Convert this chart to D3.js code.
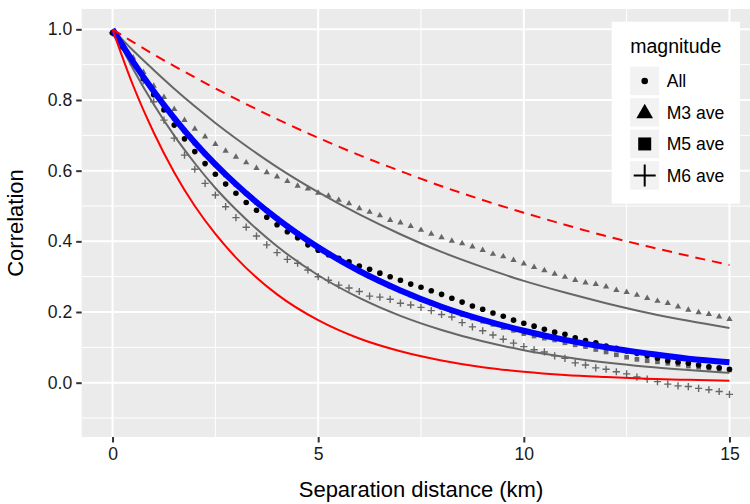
<!DOCTYPE html>
<html>
<head>
<meta charset="utf-8">
<script src="https://cdn.jsdelivr.net/npm/d3@7"></script>
<style>
  body { margin: 0; background: #fff; }
  text { font-family: "Liberation Sans", Arial, sans-serif; }
</style>
</head>
<body>
<div id="chart"></div>
<script>
// separation distances (km) of the averaged points
const pointDist = [0, 0.25, 0.5, 0.75, 1, 1.25, 1.5, 1.75, 2, 2.25, 2.5, 2.75, 3, 3.25, 3.5, 3.75,
  4, 4.25, 4.5, 4.75, 5, 5.25, 5.5, 5.75, 6, 6.25, 6.5, 6.75, 7, 7.25, 7.5, 7.75,
  8, 8.25, 8.5, 8.75, 9, 9.25, 9.5, 9.75, 10, 10.25, 10.5, 10.75, 11, 11.25, 11.5, 11.75,
  12, 12.25, 12.5, 12.75, 13, 13.25, 13.5, 13.75, 14, 14.25, 14.5, 14.75, 15];

const allCorr = [0.99, 0.95, 0.905, 0.861, 0.815, 0.772, 0.729, 0.69, 0.654, 0.62, 0.59, 0.562, 0.536, 0.51, 0.488, 0.468,
  0.447, 0.427, 0.41, 0.39, 0.375, 0.362, 0.352, 0.342, 0.33, 0.321, 0.31, 0.3, 0.29, 0.279, 0.27, 0.26,
  0.25, 0.239, 0.228, 0.217, 0.208, 0.197, 0.188, 0.177, 0.168, 0.16, 0.151, 0.143, 0.137, 0.127, 0.119, 0.113,
  0.104, 0.097, 0.09, 0.083, 0.076, 0.069, 0.062, 0.058, 0.055, 0.05, 0.045, 0.042, 0.038];

const m3Corr = [0.99, 0.96, 0.92, 0.879, 0.84, 0.808, 0.774, 0.743, 0.718, 0.696, 0.675, 0.656, 0.639, 0.623, 0.607, 0.595,
  0.583, 0.57, 0.557, 0.549, 0.537, 0.529, 0.517, 0.507, 0.493, 0.483, 0.473, 0.46, 0.453, 0.443, 0.432, 0.421,
  0.411, 0.401, 0.394, 0.385, 0.375, 0.364, 0.357, 0.347, 0.337, 0.327, 0.318, 0.308, 0.299, 0.29, 0.283, 0.279,
  0.272, 0.262, 0.256, 0.248, 0.239, 0.231, 0.225, 0.215, 0.206, 0.199, 0.194, 0.187, 0.18];

const m5Corr = [0.99, 0.95, 0.905, 0.862, 0.822, 0.785, 0.748, 0.712, 0.678, 0.647, 0.617, 0.588, 0.561, 0.535, 0.51, 0.487,
  0.464, 0.443, 0.422, 0.402, 0.383, 0.365, 0.348, 0.332, 0.316, 0.301, 0.287, 0.273, 0.26, 0.248, 0.236, 0.225,
  0.213, 0.203, 0.193, 0.183, 0.174, 0.165, 0.156, 0.148, 0.139, 0.132, 0.126, 0.121, 0.113, 0.107, 0.102, 0.094,
  0.087, 0.079, 0.072, 0.066, 0.062, 0.059, 0.055, 0.052, 0.047, 0.044, 0.041, 0.038, 0.036];

const m6Corr = [0.99, 0.95, 0.9, 0.855, 0.795, 0.743, 0.692, 0.644, 0.604, 0.564, 0.531, 0.498, 0.467, 0.44, 0.415, 0.39,
  0.368, 0.349, 0.338, 0.319, 0.3, 0.29, 0.276, 0.268, 0.258, 0.245, 0.242, 0.236, 0.225, 0.22, 0.213, 0.204,
  0.193, 0.186, 0.17, 0.158, 0.147, 0.135, 0.123, 0.112, 0.102, 0.093, 0.087, 0.076, 0.069, 0.056, 0.05, 0.042,
  0.038, 0.031, 0.025, 0.016, 0.01, 0.003, -0.004, -0.009, -0.011, -0.016, -0.02, -0.025, -0.033];

// fitted models
const lineDist = [0, 0.5, 1, 1.5, 2, 2.5, 3, 4, 5, 6, 7, 8, 9, 10, 11, 12, 13, 14, 15];
const blueFit   = [1, 0.908, 0.825, 0.749, 0.68, 0.618, 0.562, 0.464, 0.383, 0.316, 0.261, 0.215, 0.178, 0.147, 0.121, 0.1, 0.083, 0.068, 0.058];
const greyUpper = [1, 0.94, 0.885, 0.832, 0.782, 0.735, 0.691, 0.61, 0.539, 0.476, 0.42, 0.37, 0.327, 0.288, 0.255, 0.225, 0.198, 0.175, 0.155];
const greyLower = [1, 0.888, 0.788, 0.699, 0.621, 0.551, 0.49, 0.386, 0.304, 0.24, 0.189, 0.149, 0.117, 0.092, 0.073, 0.057, 0.045, 0.036, 0.028];
const redSolid  = [1, 0.841, 0.708, 0.595, 0.5, 0.421, 0.354, 0.25, 0.177, 0.125, 0.089, 0.063, 0.044, 0.031, 0.022, 0.016, 0.011, 0.008, 0.0056];
const redDashed = [1, 0.964, 0.929, 0.896, 0.864, 0.833, 0.803, 0.746, 0.693, 0.644, 0.599, 0.556, 0.517, 0.481, 0.447, 0.415, 0.386, 0.359, 0.333];

const xTicks = [0, 5, 10, 15];
const xMinor = [2.5, 7.5, 12.5];
const yTicks = [0, 0.2, 0.4, 0.6, 0.8, 1.0];
const yMinor = [-0.1, 0.1, 0.3, 0.5, 0.7, 0.9];
const legendLabels = ["All", "M3 ave", "M5 ave", "M6 ave"];

const width = 750, height = 504;
const panel = { left: 81.7, top: 9, right: 760.3, bottom: 437 };

const svg = d3.select("#chart").append("svg")
  .attr("width", width).attr("height", height);

const x = d3.scaleLinear().domain([-0.75, 15.75]).range([panel.left, panel.right]);
const y = d3.scaleLinear().domain([-0.1537, 1.0575]).range([panel.bottom, panel.top]);

// panel background + grid
svg.append("rect")
  .attr("x", panel.left).attr("y", panel.top)
  .attr("width", panel.right - panel.left).attr("height", panel.bottom - panel.top)
  .attr("fill", "#EBEBEB");

const grid = svg.append("g").attr("stroke", "#fff").attr("fill", "none");
grid.selectAll(".ym").data(yMinor).enter().append("line")
  .attr("x1", panel.left).attr("x2", panel.right)
  .attr("y1", d => y(d)).attr("y2", d => y(d)).attr("stroke-width", 1);
grid.selectAll(".xm").data(xMinor).enter().append("line")
  .attr("y1", panel.top).attr("y2", panel.bottom)
  .attr("x1", d => x(d)).attr("x2", d => x(d)).attr("stroke-width", 1);
grid.selectAll(".yM").data(yTicks).enter().append("line")
  .attr("x1", panel.left).attr("x2", panel.right)
  .attr("y1", d => y(d)).attr("y2", d => y(d)).attr("stroke-width", 2);
grid.selectAll(".xM").data(xTicks).enter().append("line")
  .attr("y1", panel.top).attr("y2", panel.bottom)
  .attr("x1", d => x(d)).attr("x2", d => x(d)).attr("stroke-width", 2);

// axes
const xAxis = d3.axisBottom(x).tickValues(xTicks).tickFormat(d3.format("d")).tickSize(5.5).tickPadding(5);
const gx = svg.append("g").attr("transform", `translate(0,${panel.bottom})`).call(xAxis);
const yAxis = d3.axisLeft(y).tickValues(yTicks).tickFormat(d3.format(".1f")).tickSize(5.5).tickPadding(4);
const gy = svg.append("g").attr("transform", `translate(${panel.left},0)`).call(yAxis);
[gx, gy].forEach(g => {
  g.select(".domain").remove();
  g.selectAll(".tick line").attr("stroke", "#333").attr("stroke-width", 2);
  g.selectAll(".tick text").attr("fill", "#1a1a1a").style("font-size", "17.6px")
    .style("font-family", "'Liberation Sans', Arial, sans-serif");
});

svg.append("text")
  .attr("x", (panel.left + panel.right) / 2).attr("y", 497)
  .attr("text-anchor", "middle").style("font-size", "22px").attr("fill", "#000")
  .text("Separation distance (km)");
svg.append("text")
  .attr("transform", `translate(23,${(panel.top + panel.bottom) / 2}) rotate(-90)`)
  .attr("text-anchor", "middle").style("font-size", "22px").attr("fill", "#000")
  .text("Correlation");

// points
const pts = svg.append("g");
const grey = "#666666";
pts.selectAll(".m3").data(pointDist).enter().append("path")
  .attr("d", d3.symbol(d3.symbolTriangle, 17))
  .attr("transform", (d, i) => `translate(${x(d)},${y(m3Corr[i])})`)
  .attr("fill", grey);
pts.selectAll(".m5").data(pointDist).enter().append("path")
  .attr("d", d3.symbol(d3.symbolSquare, 22))
  .attr("transform", (d, i) => `translate(${x(d)},${y(m5Corr[i])})`)
  .attr("fill", grey);
pts.selectAll(".m6").data(pointDist).enter().append("path")
  .attr("d", "M-3.6,0H3.6M0,-3.6V3.6")
  .attr("transform", (d, i) => `translate(${x(d)},${y(m6Corr[i])})`)
  .attr("stroke", grey).attr("stroke-width", 1.4).attr("fill", "none");
pts.selectAll(".all").data(pointDist).enter().append("circle")
  .attr("cx", d => x(d)).attr("cy", (d, i) => y(allCorr[i])).attr("r", 2.8)
  .attr("fill", "#000");

// model lines
const line = vals => d3.line().x(d => x(d)).y((d, i) => y(vals[i])).curve(d3.curveMonotoneX)(lineDist);
const lines = svg.append("g").attr("fill", "none");
lines.append("path").attr("d", line(greyUpper)).attr("stroke", grey).attr("stroke-width", 2);
lines.append("path").attr("d", line(greyLower)).attr("stroke", grey).attr("stroke-width", 2);
lines.append("path").attr("d", line(blueFit)).attr("stroke", "#0000FF").attr("stroke-width", 6);
lines.append("path").attr("d", line(redSolid)).attr("stroke", "#FF0000").attr("stroke-width", 2);
lines.append("path").attr("d", line(redDashed)).attr("stroke", "#FF0000").attr("stroke-width", 2)
  .attr("stroke-dasharray", "10,7");

// legend
const lg = svg.append("g").attr("transform", "translate(611.7,21.7)");
lg.append("rect").attr("width", 128.3).attr("height", 182).attr("fill", "#fff");
lg.append("text").attr("x", 18.5).attr("y", 31).style("font-size", "19.5px").attr("fill", "#000").text("magnitude");
const keys = lg.selectAll(".key").data(legendLabels).enter().append("g")
  .attr("transform", (d, i) => `translate(18.5,${45 + i * 31.5})`);
keys.append("rect").attr("width", 29).attr("height", 28.5).attr("fill", "#F2F2F2");
keys.append("text").attr("x", 36.5).attr("y", 20.5).style("font-size", "17.6px").attr("fill", "#000")
  .text(d => d);
keys.each(function (d, i) {
  const k = d3.select(this).append("g").attr("transform", "translate(14.5,14.25)");
  if (i === 0) k.append("circle").attr("r", 3.3).attr("fill", "#000");
  if (i === 1) k.append("path").attr("d", d3.symbol(d3.symbolTriangle, 120)).attr("transform", "translate(0,1)").attr("fill", "#000");
  if (i === 2) k.append("path").attr("d", d3.symbol(d3.symbolSquare, 169)).attr("fill", "#000");
  if (i === 3) k.append("path").attr("d", "M-11,0H11M0,-11V11").attr("stroke", "#000").attr("stroke-width", 2);
});
</script>
</body>
</html>
